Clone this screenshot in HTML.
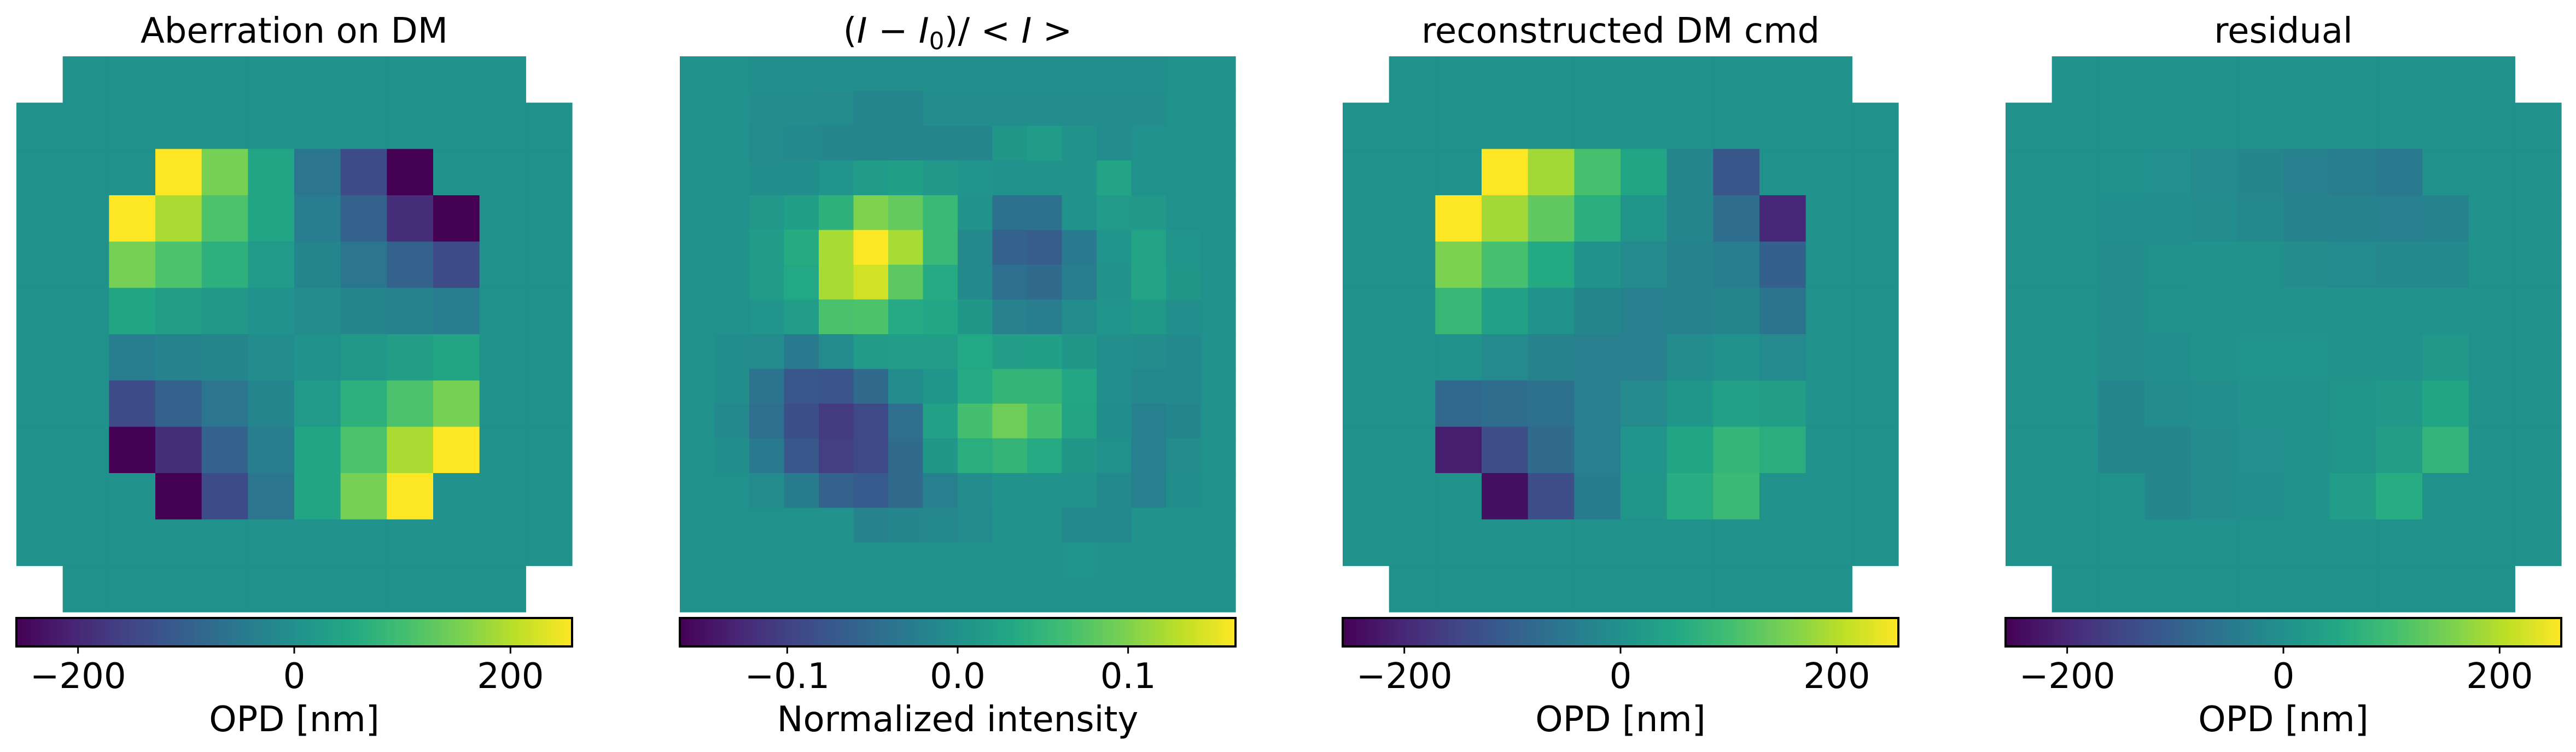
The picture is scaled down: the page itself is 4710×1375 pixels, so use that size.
<!DOCTYPE html>
<html><head><meta charset="utf-8"><style>
html,body{margin:0;padding:0;background:#fff;}
svg{display:block;}
text{font-family:"DejaVu Sans","Liberation Sans",sans-serif;fill:#000;}
</style></head><body>
<svg id="fig" width="4710" height="1375" viewBox="0 0 4710 1375" xmlns="http://www.w3.org/2000/svg"></svg>
<script>
// ---- data ----
const titles = ["Aberration on DM", "", "reconstructed DM cmd", "residual"];
const cbarLabels = ["OPD [nm]", "Normalized intensity", "OPD [nm]", "OPD [nm]"];
const vmaxes = [257, 0.163, 257, 257];
const ticks0 = [-200, 0, 200];
const ticks1 = [-0.1, 0.0, 0.1];
const tickLabels0 = ["\u2212200", "0", "200"];
const tickLabels1 = ["\u22120.1", "0.0", "0.1"];
const aberration = [
 [null,257,150,45,-55,-140,-257,null],
 [257,190,110,45,-40,-95,-190,-257],
 [150,110,70,20,-25,-55,-95,-140],
 [45,30,15,3,-10,-25,-30,-40],
 [-40,-30,-25,-10,3,15,30,45],
 [-140,-95,-55,-25,20,70,110,150],
 [-257,-190,-95,-40,45,110,190,257],
 [null,-257,-140,-55,45,150,257,null]
];
const reconstructed = [
 [null,257,185,105,45,-25,-120,null],
 [257,185,130,65,10,-25,-75,-200],
 [155,105,55,5,-15,-30,-40,-100],
 [85,35,0,-25,-35,-30,-25,-60],
 [0,-15,-30,-38,-38,-10,0,-15],
 [-85,-75,-65,-38,-15,12,35,30],
 [-215,-135,-80,-38,8,45,80,65],
 [null,-235,-135,-45,10,60,90,null]
];
const residual = [
 [null,-3,-15,-22,-35,-42,-48,null],
 [-2,-5,-10,-18,-28,-30,-35,-30],
 [-10,0,2,1,-8,-14,-18,-16],
 [-10,0,5,5,2,3,0,2],
 [-12,-5,3,8,8,5,2,15],
 [-22,-8,-5,2,1,10,15,45],
 [-25,-22,-10,-3,2,10,30,78],
 [null,-20,-10,-4,3,28,60,null]
];
const intensity = [
 [0,0,-0.003,-0.003,-0.003,-0.003,-0.003,-0.003,-0.003,-0.003,-0.003,-0.003,-0.003,-0.003,0,0],
 [0,0,-0.006,-0.006,-0.008,-0.016,-0.016,-0.007,-0.006,-0.006,-0.006,-0.006,-0.006,-0.006,0,0],
 [0,0,-0.008,-0.01,-0.013,-0.016,-0.016,-0.013,-0.013,0.008,0.016,0.003,-0.006,0,0,0],
 [0,0,-0.004,-0.004,0.005,0.016,0.02,0.01,0.005,0.002,0.003,0.003,0.025,0,0,0],
 [0,0,0.01,0.02,0.045,0.1,0.085,0.055,0.003,-0.04,-0.04,0.0,0.013,0.01,0,0],
 [0,0,0.015,0.037,0.12,0.163,0.12,0.055,-0.012,-0.06,-0.068,-0.03,0.005,0.025,0.005,0],
 [0,0,0.015,0.033,0.12,0.14,0.08,0.035,-0.01,-0.045,-0.05,-0.025,0.003,0.025,0.008,0],
 [0,0,0.005,0.018,0.068,0.07,0.035,0.03,0.008,-0.02,-0.025,-0.005,0.005,0.012,-0.003,0],
 [0,-0.004,-0.008,-0.03,-0.008,0.015,0.017,0.017,0.033,0.018,0.02,0.008,-0.003,-0.006,-0.01,0],
 [0,-0.004,-0.038,-0.075,-0.077,-0.05,-0.007,0.007,0.035,0.05,0.05,0.03,-0.003,-0.012,-0.01,0],
 [0,-0.012,-0.045,-0.085,-0.108,-0.09,-0.045,0.022,0.065,0.09,0.065,0.027,-0.004,-0.022,-0.016,0],
 [0,-0.004,-0.03,-0.075,-0.103,-0.09,-0.05,0.008,0.04,0.05,0.035,0.008,0.0,-0.022,-0.006,0],
 [0,0,-0.008,-0.028,-0.06,-0.07,-0.05,-0.022,-0.006,0.002,0.002,0.002,-0.01,-0.022,-0.004,0],
 [0,0,0,0,0,-0.018,-0.013,-0.012,-0.008,0.002,0.002,-0.012,-0.012,0.002,0.002,0],
 [0,0,0,0,0,0.002,0.002,0.002,0.002,0.002,0.002,0.005,0.002,0,0,0],
 [0,0,0,0,0,0,0,0,0,0,0,0,0,0,0,0]
];

// ---- drawing ----
const NS = "http://www.w3.org/2000/svg";
const svg = document.getElementById("fig");
const VIR = ["#440154","#482475","#414487","#355f8d","#2a788e","#21918c","#22a884","#44bf70","#7ad151","#bddf26","#fde725"];
function hex(h){return [1,3,5].map(i=>parseInt(h.substr(i,2),16));}
const VIRC = VIR.map(hex);
function viridis(t){
  t=Math.max(0,Math.min(1,t));
  const f=t*10, i=Math.min(9,Math.floor(f)), r=f-i;
  const a=VIRC[i], b=VIRC[i+1];
  return "rgb("+a.map((v,k)=>Math.round(v+(b[k]-v)*r)).join(",")+")";
}
function el(tag, attrs){const e=document.createElementNS(NS,tag);for(const k in attrs)e.setAttribute(k,attrs[k]);return e;}

const panelX = [30, 1243, 2455, 3667];
const panelW = 1016, panelTop = 103, panelH = 1016;
const cbTop = 1130, cbH = 52;
const FS = 64;

function full12(inner){
  const g=[];
  for(let r=0;r<12;r++){const row=[];for(let c=0;c<12;c++){
    let v=0;
    if((r===0||r===11)&&(c===0||c===11)) v=null;
    else if(r>=2&&r<=9&&c>=2&&c<=9){const iv=inner[r-2][c-2]; v=(iv===null)?0:iv;}
    row.push(v);} g.push(row);}
  return g;
}
const grids = [full12(aberration), intensity, full12(reconstructed), full12(residual)];

for(let p=0;p<4;p++){
  const x0=panelX[p], vmax=vmaxes[p], grid=grids[p], n=grid.length, cs=panelW/n;
  const xs=v=>x0+(v+vmax)/(2*vmax)*panelW;
  const g=el("g",{});
  
  
  svg.appendChild(g);
  const t=el("text",{x:x0+panelW/2,y:78,"font-size":FS,"text-anchor":"middle"});
  
  
  if(p===1){
    t.innerHTML='(<tspan font-style="italic">I</tspan> \u2212 <tspan font-style="italic">I</tspan><tspan font-size="44" dy="12">0</tspan><tspan dy="-12">)/ &lt; </tspan><tspan font-style="italic">I</tspan> &gt;';
  } else t.textContent=titles[p];
  g.appendChild(t);
  const hm=el("g",{});
  
  
  g.appendChild(hm);
  for(let r=0;r<n;r++)for(let c=0;c<n;c++){
    const v=grid[r][c]; if(v===null) continue;
    const rc=el("rect",{x:(x0+c*cs).toFixed(2),y:(panelTop+r*cs).toFixed(2),width:(cs+0.6).toFixed(2),height:(cs+0.6).toFixed(2),fill:viridis((v+vmax)/(2*vmax))});
    
    
    hm.appendChild(rc);
  }
  const cb=el("g",{});
  
  
  g.appendChild(cb);
  const steps=200;
  for(let i=0;i<steps;i++){
    const s=el("rect",{x:(x0+i*panelW/steps).toFixed(2),y:cbTop,width:(panelW/steps+0.8).toFixed(2),height:cbH,fill:viridis((i+0.5)/steps)});
    cb.appendChild(s);
  }
  const border=el("rect",{x:x0,y:cbTop,width:panelW,height:cbH,fill:"none",stroke:"#000","stroke-width":4});
  
  
  cb.appendChild(border);
  const tv=p===1?ticks1:ticks0, tl=p===1?tickLabels1:tickLabels0;
  for(let i=0;i<tv.length;i++){
    const tx=xs(tv[i]);
    const tk=el("line",{x1:tx,x2:tx,y1:cbTop+cbH,y2:cbTop+cbH+13,stroke:"#000","stroke-width":3});
    
    
    cb.appendChild(tk);
    const lb=el("text",{x:tx,y:1258,"font-size":FS,"text-anchor":"middle"});
    
    
    lb.textContent=tl[i];
    cb.appendChild(lb);
  }
  const al=el("text",{x:x0+panelW/2,y:1337,"font-size":FS,"text-anchor":"middle"});
  
  
  al.textContent=cbarLabels[p];
  cb.appendChild(al);
}
</script>
</body></html>
